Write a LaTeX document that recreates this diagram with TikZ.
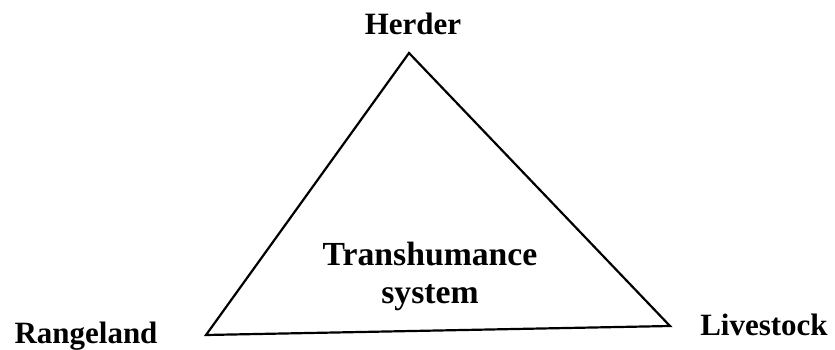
\documentclass[tikz,border=0pt]{standalone}
\usepackage{fontspec}
\setmainfont{Liberation Serif}
\begin{document}
\begin{tikzpicture}[x=1pt,y=-1pt,
  lbl/.style={font=\bfseries\fontsize{31}{38}\selectfont, inner sep=0pt, anchor=base},
  mid/.style={font=\bfseries\fontsize{33.7}{40}\selectfont, inner sep=0pt, anchor=base},
  edge/.style={line width=2.2pt, line join=miter}]
  \useasboundingbox (0,0) rectangle (835,350);
  % corners of the triangle
  \coordinate (top) at (409,53);
  \coordinate (left) at (206,335);
  \coordinate (right) at (670,326);
  \draw[edge] (top) -- (right) -- (left) -- cycle;
  % corner labels
  \node[lbl] (herder) at (413,35) {Herder};
  \node[lbl] (range) at (86,343) {Rangeland};
  \node[lbl] (live) at (764,335) {Livestock};
  % centre label
  \node[mid] (sys1) at (430,265) {Transhumance};
  \node[mid] (sys2) at (430,303) {system};
\end{tikzpicture}
\end{document}
